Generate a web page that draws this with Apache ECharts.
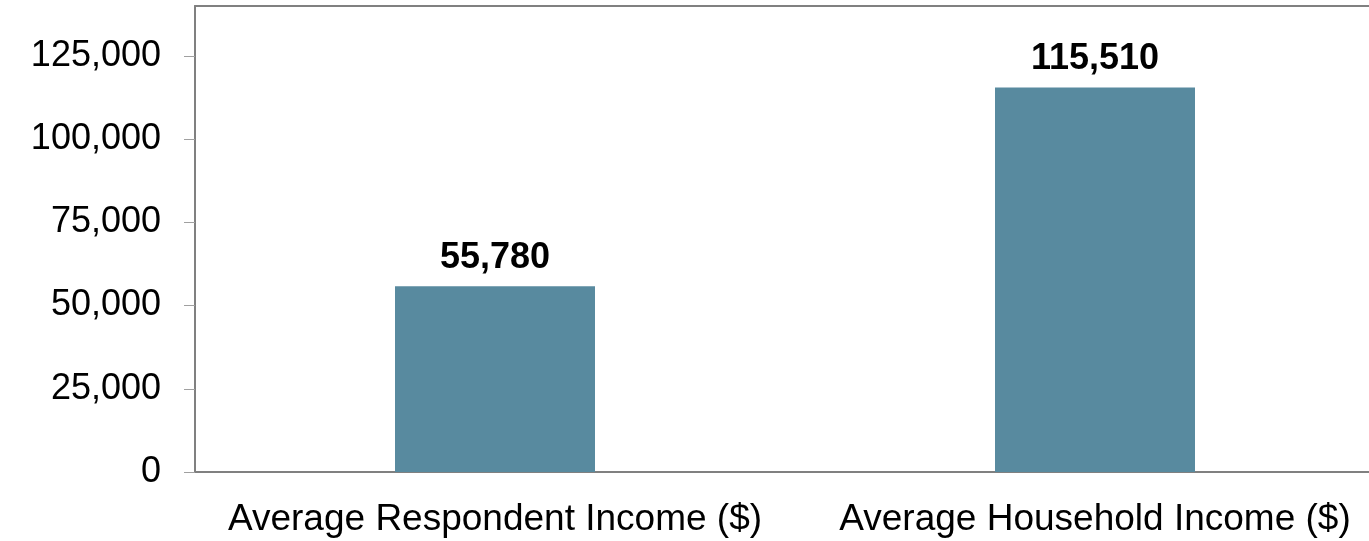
<!DOCTYPE html>
<html>
<head>
<meta charset="utf-8">
<script src="https://cdn.jsdelivr.net/npm/echarts@6/dist/echarts.min.js"></script>
<style>
  html, body { margin: 0; padding: 0; background: #fff; overflow: hidden; }
  #chart { width: 1400px; height: 541px; }
</style>
</head>
<body>
<div id="chart"></div>
<script>
const categories = ['Average Respondent Income ($)', 'Average Household Income ($)']
const incomeValues = [55780, 115510]
const yMax = 140000
const yTicks = [0, 25000, 50000, 75000, 100000, 125000]

const chart = echarts.init(document.getElementById('chart'))

const option = {
  animation: false,
  grid: {
    left: 195,
    width: 1200,
    top: 6,
    bottom: 69,
  },
  xAxis: [
    {
      type: 'category',
      data: categories,
      axisLine: { lineStyle: { color: '#808080', width: 2 } },
      axisTick: { show: false },
      axisLabel: {
        interval: 0,
        color: '#000',
        fontFamily: 'Liberation Sans, Arial, sans-serif',
        fontSize: 37,
        margin: 29,
      },
    },
    {
      // top frame line of the plot area
      type: 'category',
      position: 'top',
      data: categories,
      axisLine: { lineStyle: { color: '#808080', width: 2 } },
      axisTick: { show: false },
      axisLabel: { show: false },
    },
  ],
  yAxis: {
    type: 'value',
    min: 0,
    max: yMax,
    axisLine: { show: true, lineStyle: { color: '#808080', width: 2 } },
    axisTick: {
      show: true,
      length: 11,
      customValues: yTicks,
      lineStyle: { color: '#a0a0a0', width: 1 },
    },
    splitLine: { show: false },
    axisLabel: {
      customValues: yTicks,
      color: '#000',
      fontFamily: 'Liberation Sans, Arial, sans-serif',
      fontSize: 36,
      margin: 34,
      formatter: (v) => v.toLocaleString('en-US'),
    },
  },
  series: [
    {
      type: 'bar',
      data: incomeValues,
      barWidth: 200,
      itemStyle: { color: '#588a9f' },
      label: {
        show: true,
        position: 'top',
        distance: 10,
        color: '#000',
        fontWeight: 'bold',
        fontFamily: 'Liberation Sans, Arial, sans-serif',
        fontSize: 36,
        formatter: (p) => p.value.toLocaleString('en-US'),
      },
    },
  ],
}

chart.setOption(option)
</script>
</body>
</html>
